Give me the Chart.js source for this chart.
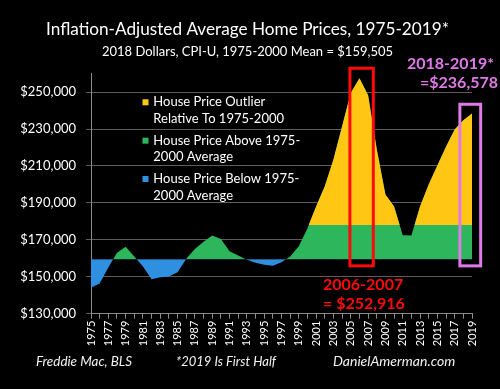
<!DOCTYPE html>
<html><head><meta charset="utf-8">
<script src="https://cdn.jsdelivr.net/npm/chart.js@4.4.0/dist/chart.umd.min.js"></script>
<style>html,body{margin:0;padding:0;background:#000;overflow:hidden;}</style>
</head><body>
<canvas id="c" width="500" height="389"></canvas>
<script>
// ---- data ----
const years = ['1975','1976','1977','1978','1979','1980','1981','1982','1983','1984','1985','1986','1987','1988','1989','1990','1991','1992','1993','1994','1995','1996','1997','1998','1999','2000','2001','2002','2003','2004','2005','2006','2007','2008','2009','2010','2011','2012','2013','2014','2015','2016','2017','2018','2019'];
const prices = [144100,146300,155000,163000,166300,161000,155500,148700,149700,150200,152400,159700,165000,169000,172300,170500,163800,161500,159200,157600,156500,155900,157800,161000,166500,176300,188000,199000,213500,231500,249500,257500,248300,219000,194500,188000,172500,172300,188000,200000,210300,220400,229800,234800,238400];
const MEAN = 159505;
const OUTLIER_LEVEL = 178000;
const yTicks = [130000,150000,170000,190000,210000,230000,250000];
const titleText = 'Inflation-Adjusted Average Home Prices, 1975-2019*';
const subtitleText = '2018 Dollars, CPI-U, 1975-2000 Mean = $159,505';
const legendLabels = [
  ['House Price Outlier','Relative To 1975-2000'],
  ['House Price Above 1975-','2000 Average'],
  ['House Price Below 1975-','2000 Average']
];
const callouts = [
  {from:2004.9, to:2007.6, low:155900, high:262900, lines:['2006-2007','= $252,916']},
  {from:2017.6, to:2020.0, low:155900, high:243400, lines:['2018-2019*','=$236,578']}
];
const footer = ['Freddie Mac, BLS','*2019 Is First Half','DanielAmerman.com'];

// ---- style ----
const FONT = 'Lato, "Open Sans", sans-serif';
const YELLOW = '#FFC714', GREEN = '#2DB65C', BLUE = '#2F8FE0';
const RED = '#FF0A0A', VIOLET = '#E07AE8';
const legendColors = [YELLOW, GREEN, BLUE];

const overlay = {
  id: 'overlay',
  afterDatasetsDraw(chart) {
    const ctx = chart.ctx, x = chart.scales.x, y = chart.scales.y;
    ctx.save();
    // title + subtitle
    ctx.textBaseline = 'middle'; ctx.textAlign = 'center';
    ctx.fillStyle = '#fff';
    ctx.font = '18px ' + FONT;
    ctx.fillText(titleText, 247.5, 29, 403);
    ctx.font = '13px ' + FONT;
    ctx.fillText(subtitleText, 247.5, 52, 291);
    // callout boxes
    const boxColors = [RED, VIOLET];
    callouts.forEach((c, i) => {
      const x0 = x.getPixelForValue(c.from - 1975), x1 = x.getPixelForValue(c.to - 1975);
      const y0 = y.getPixelForValue(c.high), y1 = y.getPixelForValue(c.low);
      ctx.strokeStyle = boxColors[i]; ctx.lineWidth = 3;
      ctx.strokeRect(x0, y0, x1 - x0, y1 - y0);
    });
    // callout texts
    ctx.textAlign = 'left';
    ctx.font = 'bold 16px ' + FONT;
    ctx.fillStyle = RED;
    ctx.fillText(callouts[0].lines[0], 323, 285);
    ctx.fillText(callouts[0].lines[1], 323, 303.5);
    ctx.fillStyle = VIOLET;
    ctx.fillText(callouts[1].lines[0], 407, 64);
    ctx.fillText(callouts[1].lines[1], 420, 83);
    // legend
    const rows = [[102.3,119],[140.7,157.3],[179,195.7]];
    ctx.font = '13px ' + FONT;
    legendLabels.forEach((lab, i) => {
      ctx.fillStyle = legendColors[i];
      ctx.fillRect(142.5, rows[i][0] - 3, 6, 6);
      ctx.fillStyle = '#fff';
      ctx.fillText(lab[0], 153.3, rows[i][0]);
      ctx.fillText(lab[1], 153.3, rows[i][1]);
    });
    // footer
    ctx.font = 'italic 14px ' + FONT;
    ctx.fillStyle = '#f2f2f2';
    ctx.fillText(footer[0], 36, 361.5, 96);
    ctx.fillText(footer[1], 176, 361.5, 100);
    ctx.fillText(footer[2], 333, 361.5, 124);
    ctx.restore();
  }
};

new Chart(document.getElementById('c'), {
  type: 'line',
  data: {
    labels: years,
    datasets: [
      { label: 'House Price Outlier', data: prices, borderWidth: 0, pointRadius: 0, tension: 0,
        fill: { target: { value: OUTLIER_LEVEL }, above: YELLOW, below: 'rgba(0,0,0,0)' } },
      { label: 'House Price vs 1975-2000 Average', data: prices, borderWidth: 0, pointRadius: 0, tension: 0,
        fill: { target: { value: MEAN }, above: GREEN, below: BLUE } }
    ]
  },
  options: {
    responsive: false, animation: false, devicePixelRatio: 1,
    layout: { padding: { left: 0, right: 28, top: 73.6, bottom: 35.3 } },
    plugins: { legend: { display: false }, tooltip: { enabled: false }, title: { display: false } },
    scales: {
      x: {
        type: 'category', offset: false,
        grid: { drawOnChartArea: false, drawTicks: true, tickLength: 5, color: '#8c8c8c' },
        border: { color: '#8c8c8c' },
        ticks: { color: '#fff', font: { family: FONT, size: 11 }, minRotation: 90, maxRotation: 90, autoSkip: false, padding: 2,
          callback(v, i) { return i % 2 === 0 ? this.getLabelForValue(v) : ''; } },
        afterFit(s) { s.height = 40; }
      },
      y: {
        min: 130000, max: 260000,
        grid: { color: '#5e5e5e', tickLength: 5, drawTicks: true },
        border: { color: '#8c8c8c' },
        ticks: { color: '#fff', font: { family: FONT, size: 13 }, padding: 10,
          callback: v => '$' + v.toLocaleString('en-US') },
        afterBuildTicks(s) { s.ticks = yTicks.map(v => ({ value: v })); },
        afterFit(s) { s.width = 91; }
      }
    }
  },
  plugins: [overlay]
});
</script>
</body></html>
